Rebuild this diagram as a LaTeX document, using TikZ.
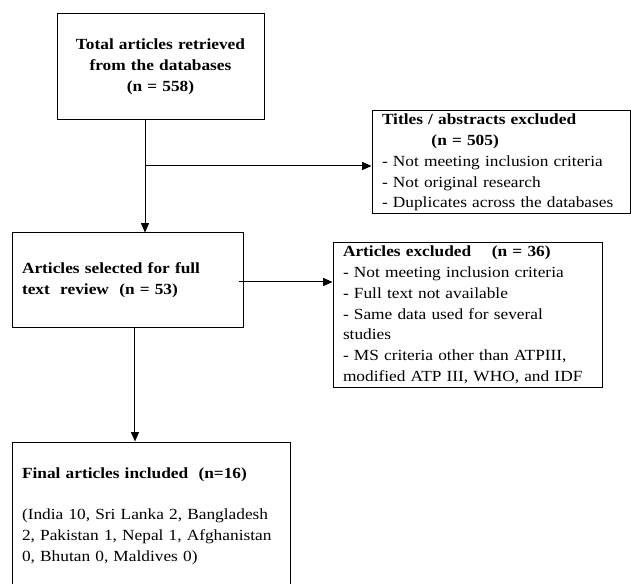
\documentclass[tikz,border=0pt]{standalone}
\usepackage{fontspec}
\setmainfont[FakeStretch=1.12]{Liberation Serif}
\usetikzlibrary{arrows.meta}

\tikzset{every picture/.style={line width=0.75pt}}
\tikzset{
	flowbox/.style={draw, inner xsep=7.5pt, inner ysep=0pt, font=\fontsize{11.6}{15.6}\selectfont},
	flowarrow/.style={-{Triangle[length=7pt,width=6pt]}}}

\begin{document}
\begin{tikzpicture}[x=0.75pt,y=0.75pt,yscale=-1,xscale=1]
	\useasboundingbox (0,0) rectangle (631,584); %set diagram size

	% Text Node
	\node [flowbox, align=center, text width=140.25pt, minimum height=79.5pt] (total) at (160.5,67) {\textbf{Total articles retrieved}\\\textbf{from the databases}\\\textbf{(n = 558)}};
	% Text Node
	\node [flowbox, align=left, text width=178.5pt, minimum height=77.25pt] (titles) at (501,162.5) {\textbf{Titles / abstracts excluded}\\\textbf{\hspace*{3.2em}(n = 505)}\\- Not meeting inclusion criteria\\- Not original research\\- Duplicates across the databases};
	% Text Node
	\node [flowbox, align=left, text width=158.25pt, minimum height=70.5pt] (selected) at (127.5,280) {\textbf{Articles selected for full}\\\textbf{text\ \ review\ \ (n = 53)}};
	% Text Node
	\node [flowbox, align=left, text width=186.75pt, minimum height=108pt] (excluded) at (467.5,315) {\textbf{Articles excluded\ \ \ \ (n = 36)}\\- Not meeting inclusion criteria\\- Full text not available\\- Same data used for several\\studies\\- MS criteria other than ATPIII,\\modified ATP III, WHO, and IDF};
	% Text Node
	\node [flowbox, align=left, text width=193.5pt, minimum height=111pt] (final) at (151,516) {\textbf{Final articles included\ \ (n=16)}\\[15.6pt](India 10, Sri Lanka 2, Bangladesh\\2, Pakistan 1, Nepal 1, Afghanistan\\0, Bhutan 0, Maldives 0)};

	\coordinate (split) at (145,166);
	\coordinate (side) at ([xshift=-3.75pt,yshift=1.5pt]selected.east);
	\coordinate (drop) at ([xshift=5.6pt]selected.south);
	%Straight Lines
	\draw [flowarrow] (split |- total.south) -- (split |- selected.north) ;
	%Straight Lines
	\draw [flowarrow] (split) -- (split -| titles.west) ;
	%Straight Lines
	\draw [flowarrow] (side) -- (side -| excluded.west) ;
	%Straight Lines
	\draw [flowarrow] (drop) -- (drop |- final.north) ;

\end{tikzpicture}
\end{document}
